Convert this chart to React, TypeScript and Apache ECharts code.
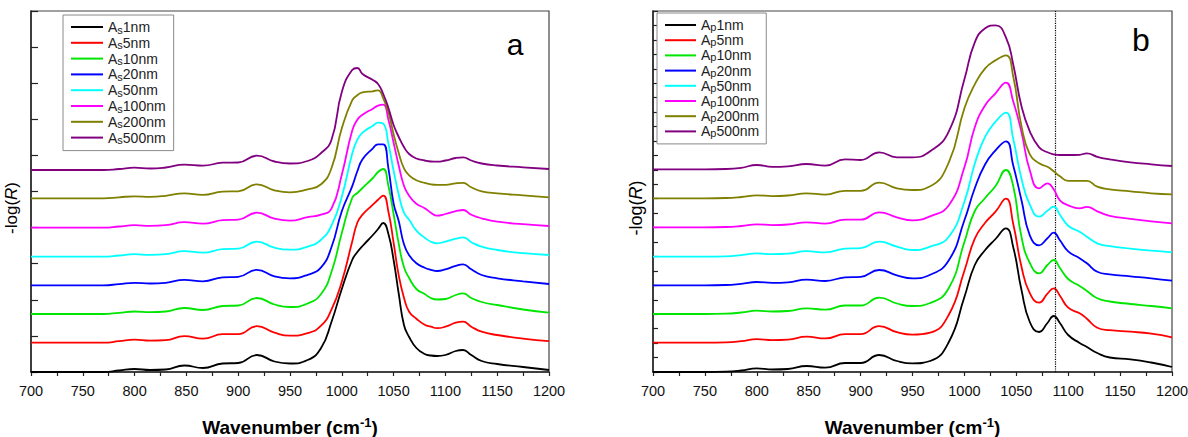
import React, { useEffect, useRef } from 'react';
import * as echarts from 'echarts';

// Wavenumber grids (cm-1)
const wavenumbersA = [700, 750, 770, 785, 800, 815, 830, 848, 866, 885, 900, 918, 935, 950, 967, 980, 990, 1000, 1010, 1015, 1020, 1030, 1035, 1040, 1045, 1050, 1055, 1060, 1065, 1072, 1080, 1086, 1092, 1100, 1110, 1117, 1125, 1135, 1150, 1175, 1200];
const wavenumbersB = [700, 750, 770, 785, 800, 815, 830, 848, 866, 885, 900, 918, 935, 950, 967, 985, 1000, 1010, 1020, 1030, 1040, 1047, 1055, 1063, 1072, 1080, 1086, 1092, 1100, 1111, 1118, 1128, 1140, 1160, 1180, 1200];

const namesA = ['As1nm', 'As5nm', 'As10nm', 'As20nm', 'As50nm', 'As100nm', 'As200nm', 'As500nm'];
const namesB = ['Ap1nm', 'Ap5nm', 'Ap10nm', 'Ap20nm', 'Ap50nm', 'Ap100nm', 'Ap200nm', 'Ap500nm'];
const colors = ['#000000', '#ff0000', '#00e600', '#0000ff', '#00ffff', '#ff00ff', '#808000', '#800080'];

// vertical stacking offsets of each trace (a.u.)
const offsetsA = [0, 29.3, 58, 86.7, 115.3, 144.3, 173.7, 202];
const offsetsB = [0, 29.3, 58, 86.7, 115.3, 144.7, 173.7, 202.7];

// panel a: -log(R) above each trace's baseline
const as1 = [0, 0, 0, 1.5, 3, 2, 2.5, 6.5, 4, 8.5, 9, 17, 10.5, 8.5, 12, 24, 50, 83, 112, 120, 126, 137, 143, 149, 138, 112, 78, 47, 35, 24, 18, 16.5, 16, 17, 21, 22, 17, 11, 8, 5, 2];
const as5 = [0, 0, 0, 1.5, 3, 2, 2.5, 6.5, 4, 8.5, 8.5, 16.5, 10, 7, 9.5, 17, 33, 61, 101, 120, 128, 138, 143, 147, 131, 100, 67, 45, 31, 24, 18, 16, 14.5, 16, 20, 21, 16, 11, 7.7, 4, 1.5];
const as10 = [0, 0, 0, 1.2, 2.5, 1.8, 2.5, 6, 4, 8, 8.5, 16, 9.5, 7, 10.5, 20, 42, 81, 116, 121, 126, 136, 142, 145, 128, 100, 70, 47, 36, 25, 20, 16, 14.5, 15, 19, 20.7, 16, 12, 9, 4.5, 1.3];
const as20 = [0, 0, 0, 1.2, 2.5, 1.8, 2.5, 5.5, 4, 8, 8.5, 15.5, 9, 7, 10.5, 18, 38, 74, 99, 114, 126, 137, 141, 141, 117, 82, 64, 41, 30, 22, 17.5, 15.5, 14.3, 16, 19.5, 21, 16, 10.3, 7, 4, 1.3];
const as50 = [0, 0, 0, 1.2, 2.5, 1.8, 2.5, 5.5, 4, 7.5, 8, 15, 9, 7, 10, 17, 31, 60, 103, 117, 124, 131, 134, 133, 113, 86, 62, 44, 37, 26, 19, 15, 13.4, 15, 18, 19.4, 14.5, 10, 6.7, 3.5, 1.7];
const as100 = [0, 0, 0, 1.2, 2.5, 1.8, 2.5, 5.5, 4, 7.5, 8, 15, 9, 7, 10.5, 13, 19, 53, 97, 108, 113, 119, 122, 123, 108, 85, 62, 42, 32, 24, 19.5, 15, 12, 13.7, 16.5, 17.7, 13, 9.4, 6, 3.5, 1.7];
const as200 = [0, 0, 0, 1, 2, 1.5, 2.5, 5, 3.5, 6.7, 7, 14, 8, 6, 9, 14, 30, 70, 98, 103, 106, 107, 108, 100, 86, 64, 45, 30, 23, 18, 15.5, 14, 13.5, 13.5, 15, 15.5, 11, 7, 5, 3, 1];
const as500 = [0, 0, 0, 1, 2.3, 1.5, 2.5, 5.3, 4.3, 7.3, 7.5, 14.3, 8.5, 6.5, 9, 17, 30, 78, 100, 102, 96, 90, 86, 76, 62, 45, 33, 23, 16, 11.5, 9.5, 8.5, 8.3, 9.5, 12, 12.7, 9.5, 6.5, 4.5, 2.7, 1];

// panel b
const ap1 = [0, 0, 0.3, 1.5, 3.7, 2.5, 3, 6, 4.3, 9, 9, 17, 11, 8.7, 11, 30, 75, 107, 122, 133, 143.7, 125, 82, 50, 40, 49, 56, 49, 37, 29, 25, 19, 14.5, 12.7, 9.5, 5];
const ap5 = [0, 0, 0.3, 1.5, 3.5, 2.5, 3, 6, 4.3, 8.5, 8.5, 16.5, 10.5, 8, 10, 28, 72, 104, 120, 131, 144, 119, 76, 49.5, 40, 49, 54.4, 47, 35, 29.4, 24, 15, 12.5, 11, 9, 5.4];
const ap10 = [0, 0, 0.3, 1.5, 3.3, 2.5, 3, 5.7, 4.3, 8.5, 8.5, 16.3, 10.5, 8, 11, 26, 72, 103, 116, 128, 144, 128, 77, 51, 40.7, 49, 54, 46, 35, 28, 23, 15.7, 12.5, 10, 8, 5.7];
const ap20 = [0, 0, 0.3, 1.5, 3.3, 2.5, 3, 5.7, 4.3, 8, 8.5, 15.3, 10, 7, 10.5, 25, 65, 97, 121, 135, 144, 120, 85, 50, 40, 47, 52.6, 45, 34, 27, 22, 13.6, 11, 9, 7, 4.6];
const ap50 = [0, 0, 0.3, 1.5, 3.3, 2.5, 3, 5.5, 4.3, 8, 8.5, 15, 10, 6.7, 10, 20, 55, 93, 120, 135, 144, 118, 78, 52, 40, 46, 50, 42, 31, 25, 20, 13.4, 10.5, 8, 6, 4.4];
const ap100 = [0, 0, 0.3, 1.3, 3, 2.2, 2.8, 5, 3.7, 7.7, 7.7, 15, 10, 7, 11, 22, 60, 100, 122, 134, 144.6, 126, 95, 57, 39, 44, 38, 27, 22, 19, 20.5, 16, 11.5, 8.5, 6, 4];
const ap200 = [0, 0, 0.3, 1.3, 3, 2.2, 2.8, 5, 3.7, 7.5, 7.5, 15.6, 10, 8.3, 12, 36, 90, 114, 130, 138, 143, 122, 72, 44, 35, 31.5, 27, 22, 17.5, 17.5, 17.5, 11.6, 9, 7, 5, 4];
const ap500 = [0, 0, 0.3, 1.5, 4.3, 2.5, 3, 5.3, 3.7, 10, 9.3, 17, 12, 12, 18, 38, 90, 127, 141, 144, 132, 105, 63, 38, 22, 17, 15, 14.3, 14.3, 14.5, 16, 12.5, 10, 7, 5, 3.3];

const seriesA = [as1, as5, as10, as20, as50, as100, as200, as500];
const seriesB = [ap1, ap5, ap10, ap20, ap50, ap100, ap200, ap500];

const markerB = 1088; // dotted reference line in panel b

const FONT = 'Liberation Sans, Arial, sans-serif';

export default function App() {
  const ref = useRef<HTMLDivElement>(null);
  useEffect(() => {
    const chart = echarts.init(ref.current!, null, { renderer: 'svg' });

    const mkSeries = (names: string[], data: number[][], grid: number[], offsets: number[], idx: number) =>
      names.map((name, k) => ({
        name,
        type: 'line',
        xAxisIndex: idx,
        yAxisIndex: idx,
        data: grid.map((w, i) => [w, offsets[k] + data[k][i]]),
        symbol: 'none',
        showSymbol: false,
        smooth: 0.5,
        lineStyle: { width: 1.8, color: colors[k] },
        itemStyle: { color: colors[k] },
        z: 3 + k,
      }));

    const sA = mkSeries(namesA, seriesA, wavenumbersA, offsetsA, 0);
    const sB: any[] = mkSeries(namesB, seriesB, wavenumbersB, offsetsB, 1);
    sB[sB.length - 1].markLine = {
      silent: true,
      symbol: ['none', 'none'],
      label: { show: false },
      lineStyle: { type: 'dotted', color: '#000', width: 1.2 },
      data: [{ xAxis: markerB }],
    };

    const legendFmt = (name: string) => `{a|A}{s|${name.charAt(1)}}{a|${name.slice(2)}}`;
    const mkRich = (lh: number) => ({
      a: { fontSize: 14, fontFamily: FONT, color: '#222', lineHeight: lh },
      s: { fontSize: 11, fontFamily: FONT, color: '#222', lineHeight: 11, verticalAlign: 'bottom' },
    });

    const xAxisCommon = {
      type: 'value',
      min: 700,
      max: 1200,
      interval: 50,
      axisLine: { show: true, lineStyle: { color: '#222', width: 1.5 } },
      axisTick: { show: true, inside: false, length: 4, lineStyle: { color: '#222', width: 1.2 } },
      minorTick: { show: true, splitNumber: 2, length: 4, lineStyle: { color: '#222', width: 1.2 } },
      axisLabel: { show: true, fontSize: 14.5, fontFamily: FONT, color: '#111', margin: 11, formatter: (v: number) => String(v) },
      splitLine: { show: false },
      minorSplitLine: { show: false },
    };

    const option: any = {
      animation: false,
      backgroundColor: '#fff',
      grid: [
        { left: 31, top: 11, width: 518, height: 361, show: true, borderColor: '#444', borderWidth: 1.2, backgroundColor: 'transparent', containLabel: false, outerBoundsMode: 'none' },
        { left: 653, top: 11, width: 519, height: 361, show: true, borderColor: '#444', borderWidth: 1.2, backgroundColor: 'transparent', containLabel: false, outerBoundsMode: 'none' },
      ],
      xAxis: [
        { ...xAxisCommon, gridIndex: 0 },
        { ...xAxisCommon, gridIndex: 1 },
      ],
      yAxis: [
        {
          type: 'value', gridIndex: 0, min: 0, max: 361, interval: 36.1,
          axisLine: { show: true, lineStyle: { color: '#222', width: 1.5 } },
          axisTick: { show: true, inside: true, length: 7, lineStyle: { color: '#222', width: 1.2 } },
          axisLabel: { show: false },
          splitLine: { show: false },
        },
        {
          type: 'value', gridIndex: 1, min: 0, max: 361, interval: 14.44,
          axisLine: { show: true, lineStyle: { color: '#222', width: 1.5 } },
          axisTick: { show: true, inside: true, length: 5, lineStyle: { color: '#222', width: 1.2 } },
          axisLabel: { show: false },
          splitLine: { show: false },
        },
      ],
      legend: [
        {
          data: namesA, orient: 'vertical', left: 63, top: 15,
          padding: [5, 8, 5, 8], itemWidth: 32, itemHeight: 2, itemGap: 0.8, icon: 'rect',
          borderColor: '#8a8a8a', borderWidth: 1, backgroundColor: '#fff',
          formatter: legendFmt, textStyle: { rich: mkRich(16), fontFamily: FONT },
          selectedMode: false,
        },
        {
          data: namesB, orient: 'vertical', left: 657, top: 13,
          padding: [5, 7, 5, 8], itemWidth: 31, itemHeight: 2, itemGap: 0.7, icon: 'rect',
          borderColor: '#8a8a8a', borderWidth: 1, backgroundColor: '#fff',
          formatter: legendFmt, textStyle: { rich: mkRich(15), fontFamily: FONT },
          selectedMode: false,
        },
      ],
      graphic: [
        { type: 'text', x: 515, y: 44, z: 100, style: { text: 'a', fontSize: 30, fontFamily: FONT, fill: '#000', align: 'center', verticalAlign: 'middle' } },
        { type: 'text', x: 1141, y: 40, z: 100, style: { text: 'b', fontSize: 32, fontFamily: FONT, fill: '#000', align: 'center', verticalAlign: 'middle' } },
        {
          type: 'text', x: 11, y: 208, rotation: Math.PI / 2, z: 100,
          style: {
            text: '{n|-log(}{i|R}{n|)}', align: 'center', verticalAlign: 'middle',
            rich: {
              n: { fontSize: 17, fontFamily: FONT, fill: '#000' },
              i: { fontSize: 17, fontFamily: FONT, fontStyle: 'italic', fill: '#000' },
            },
          },
        },
        {
          type: 'text', x: 636, y: 208, rotation: Math.PI / 2, z: 100,
          style: {
            text: '{n|-log(}{i|R}{n|)}', align: 'center', verticalAlign: 'middle',
            rich: {
              n: { fontSize: 18, fontFamily: FONT, fill: '#000' },
              i: { fontSize: 18, fontFamily: FONT, fontStyle: 'italic', fill: '#000' },
            },
          },
        },
        ...[290, 912.5].map((cx) => ({
          type: 'text', x: cx, y: 427, z: 100,
          style: {
            text: '{b|Wavenumber (cm}{s|-1}{b|)}', align: 'center', verticalAlign: 'middle',
            rich: {
              b: { fontSize: 19, fontFamily: FONT, fontWeight: 'bold', fill: '#000', lineHeight: 22 },
              s: { fontSize: 13, fontFamily: FONT, fontWeight: 'bold', fill: '#000', lineHeight: 13, verticalAlign: 'top' },
            },
          },
        })),
      ],
      series: [...sA, ...sB],
    };

    chart.setOption(option);
    return () => chart.dispose();
  }, []);

  return <div ref={ref} style={{ position: 'fixed', left: 0, top: 0, width: 1188, height: 437, background: '#fff' }} />;
}
